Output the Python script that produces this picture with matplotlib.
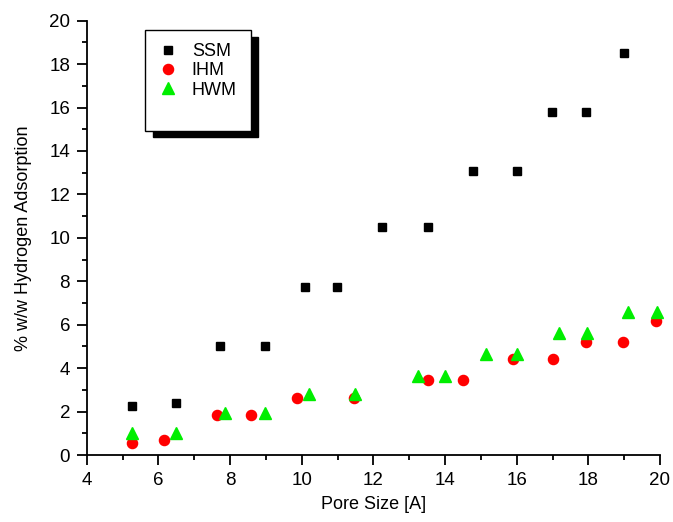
import matplotlib
matplotlib.use("Agg")
import matplotlib.pyplot as plt
from matplotlib.patches import Rectangle
from matplotlib.ticker import MultipleLocator

plt.rcParams['font.family'] = ['Liberation Sans', 'DejaVu Sans']

ssm_x = [5.27, 6.49, 7.72, 8.98, 10.08, 10.98, 12.24, 13.53, 14.79, 16.0, 16.99, 17.94, 19.0]
ssm_y = [2.26, 2.39, 5.02, 5.02, 7.72, 7.72, 10.51, 10.51, 13.08, 13.08, 15.78, 15.78, 18.52]

ihm_x = [5.27, 6.16, 7.63, 8.58, 9.88, 11.46, 13.53, 14.49, 15.89, 17.01, 17.94, 18.98, 19.89]
ihm_y = [0.55, 0.69, 1.84, 1.84, 2.61, 2.61, 3.45, 3.45, 4.41, 4.41, 5.2, 5.2, 6.18]

hwm_x = [5.26, 6.49, 7.85, 8.98, 10.20, 11.48, 13.25, 13.99, 15.14, 16.0, 17.19, 17.95, 19.10, 19.91]
hwm_y = [1.01, 1.01, 1.92, 1.92, 2.80, 2.80, 3.63, 3.63, 4.64, 4.64, 5.6, 5.6, 6.57, 6.57]

W, H = 673, 522
fig = plt.figure(figsize=(W / 100, H / 100), dpi=100)
ax = fig.add_axes([86.7 / W, 1 - 455 / H, (660 - 86.7) / W, (455 - 20.7) / H])

ax.plot(ssm_x, ssm_y, ls='none', marker='s', ms=6.3, color='black', label='SSM', clip_on=False)
ax.plot(ihm_x, ihm_y, ls='none', marker='o', ms=7.3, color='#ff0000', label='IHM', clip_on=False)
ax.plot(hwm_x, hwm_y, ls='none', marker='^', ms=8.3, color='#00ee00', label='HWM', clip_on=False)

ax.set_xlim(4, 20)
ax.set_ylim(0, 20)
ax.xaxis.set_major_locator(MultipleLocator(2))
ax.xaxis.set_minor_locator(MultipleLocator(1))
ax.yaxis.set_major_locator(MultipleLocator(2))
ax.yaxis.set_minor_locator(MultipleLocator(1))
for s in ['top', 'right']:
    ax.spines[s].set_visible(False)
for s in ['left', 'bottom']:
    ax.spines[s].set_linewidth(1.3)
ax.tick_params(which='major', direction='out', length=7, width=1.3, labelsize=13.5, pad=5)
ax.tick_params(which='minor', direction='out', length=3.5, width=1.3)
ax.set_xlabel('Pore Size [A]', fontsize=13, labelpad=5)
ax.set_ylabel('% w/w Hydrogen Adsorption', fontsize=13, labelpad=12)

# legend box with shadow (figure pixel coordinates)
def fr(x0, y0, x1, y1):
    return (x0 / W, 1 - y1 / H), (x1 - x0) / W, (y1 - y0) / H

xy, w, h = fr(153, 37, 258, 137)
fig.patches.append(Rectangle(xy, w, h, transform=fig.transFigure, facecolor='black', edgecolor='black', zorder=5))
xy, w, h = fr(145, 30, 251, 131)
fig.patches.append(Rectangle(xy, w, h, transform=fig.transFigure, facecolor='white', edgecolor='black', lw=1.0, zorder=6))

leg = fig.legend(loc='upper left', bbox_to_anchor=(152 / W, 1 - 36 / H), frameon=False,
                 fontsize=13, handlelength=1.0, handletextpad=0.8, labelspacing=0.12,
                 borderaxespad=0, markerscale=1.0)
leg.set_zorder(7)

fig.savefig('out.png', dpi=100)
